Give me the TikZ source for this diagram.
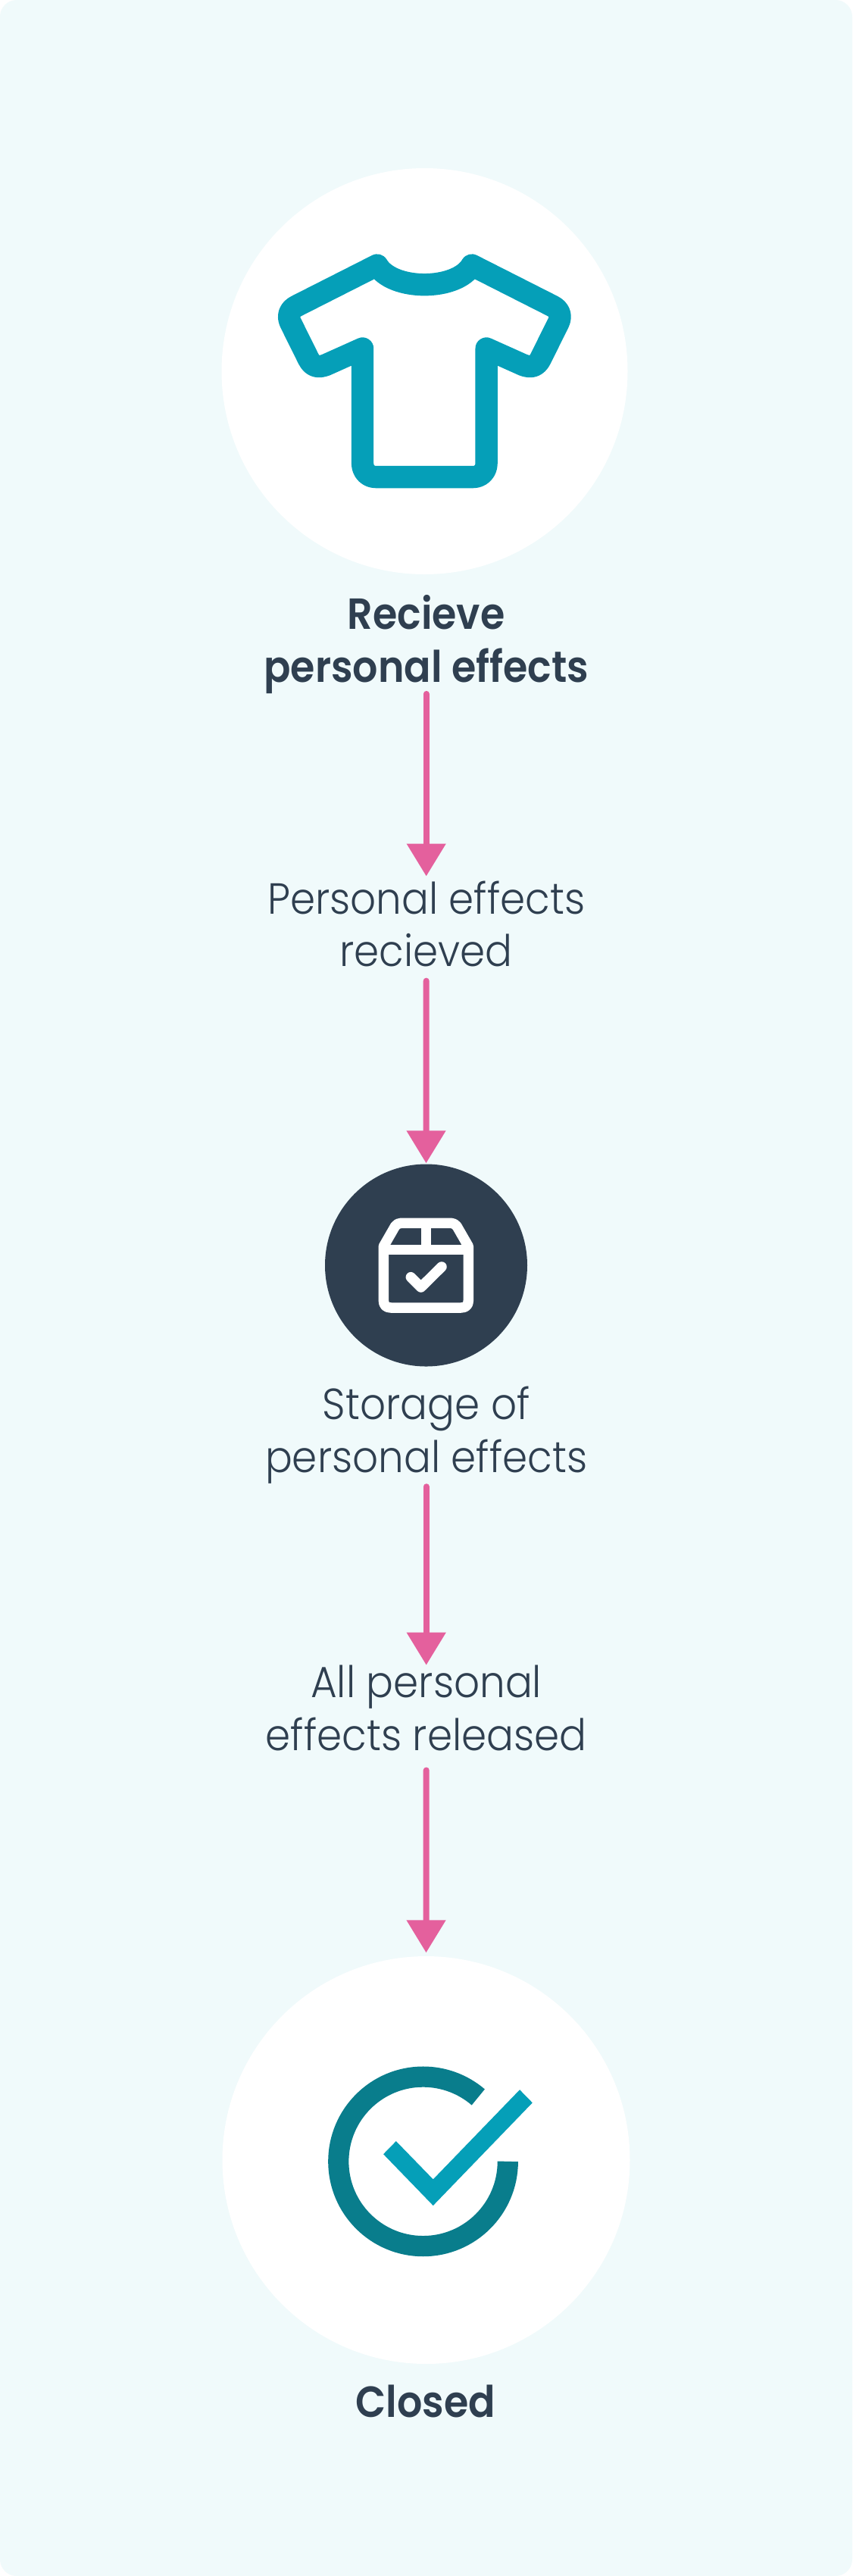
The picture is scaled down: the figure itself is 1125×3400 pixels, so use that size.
\documentclass[tikz,border=0pt]{standalone}
\usepackage{fontspec}
\usetikzlibrary{arrows.meta}
\setmainfont{Poppins}
\newfontfamily\lightfont[FakeStretch=0.925]{Poppins Light}
\newfontfamily\semifont[FakeStretch=0.91]{Poppins SemiBold}
\definecolor{bgc}{HTML}{F0FAFB}
\definecolor{inkc}{HTML}{2F3F50}
\definecolor{pinkc}{HTML}{E4609D}
\definecolor{tealc}{HTML}{059FB8}
\definecolor{deepc}{HTML}{097D8C}
\newcommand\upr[1]{\rule{0pt}{#1pt}}
\newcommand\dnr[1]{\rule[-#1pt]{0pt}{#1pt}}
\tikzset{
 x=1pt,y=-1pt,
 circ/.style={circle,inner sep=0pt,minimum size=#1},
 lbl/.style={inner sep=0pt,anchor=base,align=center,text=inkc,
   font=\fontsize{57.5}{69.6}\selectfont\lightfont},
 head/.style={lbl,font=\fontsize{57.5}{69.6}\selectfont\semifont},
 flow/.style={draw=pinkc,line width=8pt,line cap=round,-{Triangle[length=43pt,width=50pt,fill=pinkc]}},
}
\begin{document}
\begin{tikzpicture}
\useasboundingbox (0,0) rectangle (1125,3400);
\fill[white] (0,0) rectangle (1125,3400);
\fill[bgc,rounded corners=22pt] (0,0) rectangle (1125,3400);
\node[circ=536pt,fill=white] (c1) at (560.5,490) {};
\node[circ=267pt,fill=inkc] (c2) at (562.5,1670) {};
\node[circ=538pt,fill=white] (c3) at (562.5,2851) {};
\node[head] (t1) at (562.7,900.5) {Recieve\\personal effects\dnr{14.3}};
\node[lbl] (t2) at (562.7,1275.6) {\upr{49.3}Personal effects\\recieved\dnr{18.8}};
\node[lbl] (t3) at (562.7,1943.3) {Storage of\\personal effects\dnr{18.7}};
\node[lbl] (t4) at (562.7,2310) {\upr{41.6}All personal\\effects released\dnr{26.3}};
\node[head] (t5) at (561.7,3190.7) {Closed};
\draw[flow] (t1.south) -- (t2.north);
\draw[flow,shorten >=1pt] (t2.south) -- (c2.north);
\draw[flow] (t3.south) -- (t4.north);
\draw[flow,shorten >=4.5pt] (t4.south) -- (c3.north);
\begin{scope}[shift={(280,210)},x=1pt/2.8,y=-1pt/2.8]
\draw[tealc,line width=29.3pt,line join=round]
 (556,700) -- (556,1125) .. controls (556,1153) and (577,1175) .. (605,1175) -- (965,1175)
 .. controls (993,1175) and (1014,1153) .. (1014,1125) -- (1014,700) -- (1150,761)
 .. controls (1175,770) and (1198,770) .. (1214,738) -- (1280,605)
 .. controls (1292,580) and (1285,556) .. (1256,542) -- (960,392)
 .. controls (905,488) and (665,488) .. (610,392) -- (314,542)
 .. controls (285,556) and (278,580) .. (290,605) -- (356,738)
 .. controls (372,770) and (395,770) .. (420,761) -- cycle;
\end{scope}
\begin{scope}[shift={(400,1500)},x=1pt/3,y=-1pt/3]
\draw[white,line width=13.5pt,line join=round]
 (319,649) -- (319,435) -- (365,355) .. controls (372,347) and (378,343) .. (388,343) -- (586,343)
 .. controls (596,343) and (602,347) .. (609,355) -- (655,435) -- (655,649)
 .. controls (655,668) and (645,678) .. (626,678) -- (348,678) .. controls (329,678) and (319,668) .. (319,649) -- cycle;
\draw[white,line width=13.5pt] (319,449) -- (655,449) (487,343) -- (487,449);
\draw[white,line width=13.5pt,line cap=round,line join=round] (427,557) -- (467,597) -- (549,516);
\end{scope}
\begin{scope}[shift={(280,2570)},x=1pt/2.8,y=-1pt/2.8]
\draw[deepc,line width=27.2pt] (1093,792) arc[start angle=0,end angle=310.6,radius=313];
\fill[tealc] (633,765) -- (680,717) -- (817,858) -- (1137,527) -- (1184,575) -- (817,955) -- cycle;
\end{scope}
\end{tikzpicture}
\end{document}
